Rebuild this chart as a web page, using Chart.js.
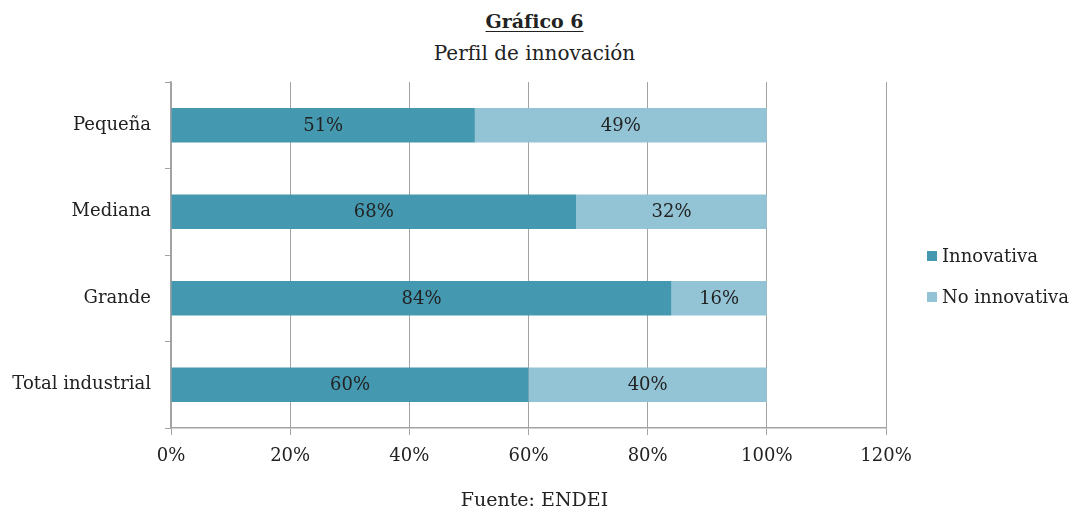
<!DOCTYPE html>
<html lang="es">
<head>
<meta charset="utf-8">
<script src="https://cdn.jsdelivr.net/npm/chart.js@4"></script>
<style>
  html, body { margin: 0; padding: 0; background: #fff; }
  body { width: 1069px; height: 512px; position: relative; overflow: hidden; font-family: "DejaVu Serif", serif; color: #222; }
  .titulo { position: absolute; left: 0; width: 1069px; text-align: center; top: 10px; font-size: 19px; font-weight: bold; }
  .titulo span { text-decoration: underline; text-underline-offset: 3px; }
  .subtitulo { position: absolute; left: 0; width: 1069px; text-align: center; top: 41px; font-size: 20px; }
  .fuente { position: absolute; left: 0; width: 1069px; text-align: center; top: 488px; font-size: 19px; }
  #wrap { position: absolute; left: 0; top: 0; width: 1069px; height: 512px; }
  #leyenda { position: absolute; left: 927px; top: 245px; font-size: 18px; }
  #leyenda div { height: 41px; display: flex; align-items: flex-start; }
  #leyenda i { display: inline-block; width: 10px; height: 10px; margin: 6px 5px 0 0; }
</style>
</head>
<body>
<div class="titulo"><span>Gráfico 6</span></div>
<div class="subtitulo">Perfil de innovación</div>
<div id="wrap"><canvas id="perfil"></canvas></div>
<div id="leyenda"></div>
<div class="fuente">Fuente: ENDEI</div>
<script>
const categorias = ['Pequeña', 'Mediana', 'Grande', 'Total industrial'];
const innovativa = [51, 68, 84, 60];
const noInnovativa = [49, 32, 16, 40];
const ticksX = [0, 20, 40, 60, 80, 100, 120];

const colorInnov = '#4499b0';
const colorNoInnov = '#93c4d6';
const gris = '#a3a3a3';
const fuente = '"DejaVu Serif", serif';

// etiquetas con el valor dentro de cada tramo de barra
const etiquetas = {
  id: 'etiquetas',
  afterDatasetsDraw(chart) {
    const ctx = chart.ctx;
    ctx.save();
    ctx.font = '18px ' + fuente;
    ctx.fillStyle = '#222';
    ctx.textAlign = 'center';
    ctx.textBaseline = 'middle';
    chart.data.datasets.forEach((ds, i) => {
      chart.getDatasetMeta(i).data.forEach((bar, j) => {
        const x = (bar.x + bar.base) / 2;
        ctx.fillText(ds.data[j] + '%', x, bar.y + 1);
      });
    });
    ctx.restore();
  }
};

const ctx = document.getElementById('perfil');

const grafico = new Chart(ctx, {
  type: 'bar',
  data: {
    labels: categorias,
    datasets: [
      { label: 'Innovativa', data: innovativa, backgroundColor: colorInnov },
      { label: 'No innovativa', data: noInnovativa, backgroundColor: colorNoInnov }
    ]
  },
  options: {
    indexAxis: 'y',
    responsive: true,
    maintainAspectRatio: false,
    animation: false,
    layout: { padding: { top: 82, right: 183, bottom: 0, left: 0 } },
    datasets: { bar: { barPercentage: 0.8, categoryPercentage: 0.5 } },
    plugins: { legend: { display: false }, tooltip: { enabled: false } },
    scales: {
      x: {
        stacked: true,
        min: 0,
        max: 120,
        afterBuildTicks: (s) => { s.ticks = ticksX.map(v => ({ value: v })); },
        afterFit: (s) => { s.height = 84; },
        grid: { color: gris, lineWidth: 1, tickLength: 7 },
        border: { color: gris, width: 1.5 },
        ticks: { padding: 11, color: '#222', font: { family: fuente, size: 18 }, callback: v => v + '%' }
      },
      y: {
        stacked: true,
        afterFit: (s) => { s.width = 171; },
        grid: { drawOnChartArea: false, color: gris, tickLength: 6 },
        border: { color: gris, width: 1.5 },
        ticks: { padding: 14, color: '#222', font: { family: fuente, size: 18 } }
      }
    }
  },
  plugins: [etiquetas]
});

// leyenda a la derecha
const leyenda = document.getElementById('leyenda');
grafico.data.datasets.forEach(ds => {
  const fila = document.createElement('div');
  const cuadro = document.createElement('i');
  cuadro.style.background = ds.backgroundColor;
  fila.appendChild(cuadro);
  fila.appendChild(document.createTextNode(ds.label));
  leyenda.appendChild(fila);
});
</script>
</body>
</html>
